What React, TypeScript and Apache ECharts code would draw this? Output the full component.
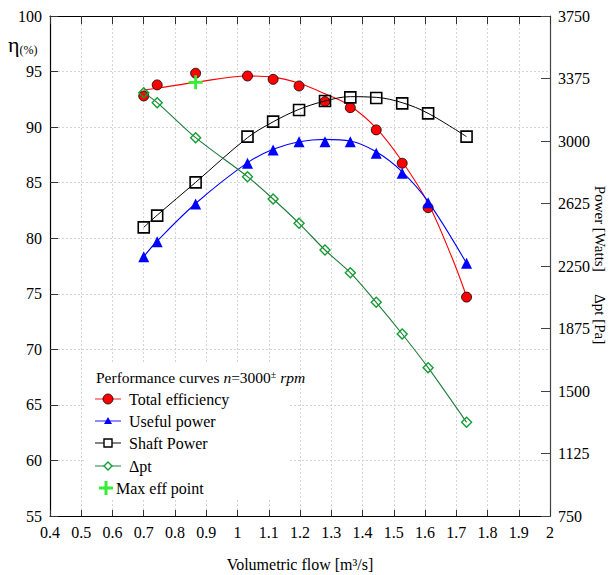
import React, { useEffect, useRef } from "react";
import * as echarts from "echarts";

// Measured points
const flow = [0.7, 0.743, 0.866, 1.032, 1.114, 1.197, 1.28, 1.361, 1.444, 1.527, 1.61, 1.733];
const totalEff = [92.8, 93.8, 94.85, 94.6, 94.3, 93.7, 92.3, 91.75, 89.75, 86.75, 82.75, 74.7];
const usefulPower = [2306, 2396, 2622, 2866, 2946, 2996, 2996, 2996, 2926, 2806, 2630, 2266];
const shaftPower = [2482, 2552, 2752, 3026, 3116, 3186, 3240, 3262, 3258, 3226, 3166, 3026];
const deltaPt = [3290, 3230, 3020, 2786, 2652, 2506, 2346, 2210, 2032, 1842, 1640, 1312];

// Fitted curves
const effFitFlow = [0.7, 0.743, 0.866, 1.032, 1.114, 1.197, 1.28, 1.361, 1.444, 1.527, 1.61, 1.685, 1.733];
const effFit = [93.35, 93.5, 94.03, 94.6, 94.5, 93.95, 93.0, 91.9, 89.9, 86.9, 83.15, 78.35, 74.76];
const usefulFit = [2306, 2400, 2625, 2870, 2950, 2995, 3010, 3000, 2935, 2815, 2636, 2266];
const shaftFit = [2482, 2555, 2752, 3020, 3115, 3190, 3240, 3266, 3262, 3230, 3166, 3026];
const deltaFit = [3290, 3230, 3020, 2786, 2652, 2506, 2346, 2210, 2032, 1842, 1640, 1312];

const maxEffPoint = [0.866, 94.03];

const xTicks = { min: 0.4, max: 2, interval: 0.1 };
const leftTicks = { min: 55, max: 100, interval: 5 };
const rightTicks = { min: 750, max: 3750, interval: 375 };

const FONT = "'Liberation Serif'";
const plusPath = "path://M4,0H6V4H10V6H6V10H4V6H0V4H4Z";

const zip = (xs: number[], ys: number[]) => xs.map((x, i) => [x, ys[i]]);

const txt = (x: number, y: number, text: string) => ({
  type: "text", z: 51, x, y,
  style: {
    text: `{a|${text}}`,
    verticalAlign: "middle",
    fontFamily: FONT, fontSize: 16,
    rich: { a: { fontFamily: FONT, fontSize: 16, fill: "#000" } },
  },
});

export default function App() {
  const ref = useRef<HTMLDivElement>(null);
  useEffect(() => {
    document.body.style.margin = "0";
    if (!ref.current) return;
    const chart = echarts.init(ref.current, undefined, { renderer: "svg" });
    const gridLine = { show: true, lineStyle: { color: "#d4d4d4", type: [2, 2] as any, width: 1 } };
    const legendRows = [399, 421, 443, 466];
    const lx0 = 95, lx1 = 121, mx = 108, tx = 129;
    const option: any = {
      animation: false,
      textStyle: { fontFamily: FONT },
      grid: { left: 50, right: 62, top: 16, bottom: 59, containLabel: false, outerBoundsMode: "none" },
      xAxis: [
        {
          type: "value", ...xTicks, position: "bottom",
          name: "Volumetric flow [m³/s]", nameLocation: "middle", nameGap: 40, nameMoveOverlap: false,
          nameTextStyle: { fontFamily: FONT, fontSize: 16, color: "#000" },
          axisLine: { show: true, onZero: false, lineStyle: { color: "#000", width: 1.2 } },
          axisTick: { show: true, inside: true, length: 6, lineStyle: { color: "#333" } },
          axisLabel: { fontFamily: FONT, fontSize: 16, color: "#000", margin: 8 },
          splitLine: gridLine,
        },
        {
          type: "value", ...xTicks, position: "top",
          axisLine: { show: true, onZero: false, lineStyle: { color: "#000", width: 1.2 } },
          axisTick: { show: true, inside: true, length: 8, lineStyle: { color: "#333" } },
          axisLabel: { show: false },
          splitLine: { show: false },
        },
      ],
      yAxis: [
        {
          type: "value", ...leftTicks, position: "left",
          axisLine: { show: true, onZero: false, lineStyle: { color: "#000", width: 1.2 } },
          axisTick: { show: true, inside: true, length: 8, lineStyle: { color: "#333" } },
          axisLabel: { fontFamily: FONT, fontSize: 16, color: "#000", margin: 8 },
          splitLine: gridLine,
        },
        {
          type: "value", ...rightTicks, position: "right",
          axisLine: { show: true, onZero: false, lineStyle: { color: "#444", width: 1.2 } },
          axisTick: { show: true, inside: true, length: 9, lineStyle: { color: "#444" } },
          axisLabel: { fontFamily: FONT, fontSize: 16, color: "#000", margin: 8, formatter: (v: number) => String(v) },
          splitLine: { show: false },
        },
      ],
      series: [
        { name: "Total efficiency fit", type: "line", yAxisIndex: 0, data: zip(effFitFlow, effFit), smooth: 0.35, showSymbol: false, lineStyle: { color: "#ff0000", width: 1.1 }, z: 2 },
        { name: "Total efficiency", type: "scatter", yAxisIndex: 0, data: zip(flow, totalEff), symbol: "circle", symbolSize: 10, itemStyle: { color: "#ff0000", borderColor: "#000", borderWidth: 0.8, opacity: 1 }, z: 3 },
        { name: "Useful power fit", type: "line", yAxisIndex: 1, data: zip(flow, usefulFit), smooth: 0.35, showSymbol: false, lineStyle: { color: "#0000ff", width: 1.1 }, z: 4 },
        { name: "Useful power", type: "scatter", yAxisIndex: 1, data: zip(flow, usefulPower), symbol: "triangle", symbolSize: 11, itemStyle: { color: "#0000ff", opacity: 1 }, z: 5 },
        { name: "Shaft Power fit", type: "line", yAxisIndex: 1, data: zip(flow, shaftFit), smooth: 0.35, showSymbol: false, lineStyle: { color: "#000", width: 1 }, z: 6 },
        { name: "Shaft Power", type: "scatter", yAxisIndex: 1, data: zip(flow, shaftPower), symbol: "rect", symbolSize: 11, itemStyle: { color: "rgba(0,0,0,0)", borderColor: "#000", borderWidth: 1.6, opacity: 1 }, z: 7 },
        { name: "Δpt fit", type: "line", yAxisIndex: 1, data: zip(flow, deltaFit), smooth: 0.3, showSymbol: false, lineStyle: { color: "#1e7a3c", width: 1.1 }, z: 8 },
        { name: "Δpt", type: "scatter", yAxisIndex: 1, data: zip(flow, deltaPt), symbol: "diamond", symbolSize: 10, itemStyle: { color: "rgba(0,0,0,0)", borderColor: "#10a030", borderWidth: 1.4, opacity: 1 }, z: 9 },
        { name: "Max eff point", type: "scatter", yAxisIndex: 0, data: [maxEffPoint], symbol: plusPath, symbolSize: 14, itemStyle: { color: "#33ee33", opacity: 1 }, z: 10 },
      ],
      graphic: [
        { type: "rect", z: 50, shape: { x: 86, y: 362, width: 204, height: 138 }, style: { fill: "#fff" } },
        {
          type: "text", z: 51, x: 96, y: 377,
          style: {
            text: "{a|Performance curves }{i|n}{a|=3000}{s|±}{a| }{i|rpm}",
            verticalAlign: "middle",
            rich: {
              a: { fontFamily: FONT, fontSize: 15.5, fill: "#000" },
              i: { fontFamily: FONT, fontSize: 15.5, fontStyle: "italic", fill: "#000" },
              s: { fontFamily: FONT, fontSize: 10, fill: "#000", verticalAlign: "top", padding: [0, 0, 6, 0] },
            },
          },
        },
        // Total efficiency
        { type: "line", z: 51, shape: { x1: lx0, y1: legendRows[0], x2: lx1, y2: legendRows[0] }, style: { stroke: "#ff4040", lineWidth: 1.2 } },
        { type: "circle", z: 52, shape: { cx: mx, cy: legendRows[0], r: 5 }, style: { fill: "#ff0000", stroke: "#000", lineWidth: 0.8 } },
        txt(tx, legendRows[0], "Total efficiency"),
        // Useful power
        { type: "line", z: 51, shape: { x1: lx0, y1: legendRows[1], x2: lx1, y2: legendRows[1] }, style: { stroke: "#4040ff", lineWidth: 1.2 } },
        { type: "polygon", z: 52, shape: { points: [[mx, legendRows[1] - 4], [mx - 4, legendRows[1] + 3], [mx + 4, legendRows[1] + 3]] }, style: { fill: "#0000ff" } },
        txt(tx, legendRows[1], "Useful power"),
        // Shaft power
        { type: "line", z: 51, shape: { x1: lx0, y1: legendRows[2], x2: lx1, y2: legendRows[2] }, style: { stroke: "#333", lineWidth: 1.2 } },
        { type: "rect", z: 52, shape: { x: mx - 4, y: legendRows[2] - 4, width: 8, height: 8 }, style: { fill: "#fff", stroke: "#000", lineWidth: 1.4 } },
        txt(tx, legendRows[2], "Shaft Power"),
        // Delta pt
        { type: "line", z: 51, shape: { x1: lx0, y1: legendRows[3], x2: lx1, y2: legendRows[3] }, style: { stroke: "#3a9a5a", lineWidth: 1.2 } },
        { type: "polygon", z: 52, shape: { points: [[mx, legendRows[3] - 4], [mx + 4, legendRows[3]], [mx, legendRows[3] + 4], [mx - 4, legendRows[3]]] }, style: { fill: "#fff", stroke: "#10a030", lineWidth: 1.4 } },
        txt(tx, legendRows[3], "Δpt"),
        // Max eff point
        { type: "rect", z: 52, shape: { x: 99, y: 486.5, width: 14, height: 3 }, style: { fill: "#33ee33" } },
        { type: "rect", z: 52, shape: { x: 104.5, y: 481, width: 3, height: 14 }, style: { fill: "#33ee33" } },
        txt(116, 488, "Max eff point"),
        // y-axis title
        {
          type: "text", z: 51, x: 8, y: 44,
          style: {
            text: "{e|η}{p|(%)}",
            verticalAlign: "middle",
            rich: {
              e: { fontFamily: FONT, fontSize: 22, fill: "#000", lineHeight: 24 },
              p: { fontFamily: FONT, fontSize: 12, fill: "#000", lineHeight: 24, verticalAlign: "bottom" },
            },
          },
        },
        // right-axis title (rotated, reads top to bottom)
        {
          type: "text", z: 51, x: 600, y: 265, rotation: -Math.PI / 2,
          style: {
            text: "{a|Power [Watts]      Δpt [Pa]}",
            align: "center", verticalAlign: "middle",
            rich: { a: { fontFamily: FONT, fontSize: 15, fill: "#000" } },
          },
        },
      ],
    };
    chart.setOption(option);
    return () => chart.dispose();
  }, []);
  return <div ref={ref} style={{ width: 612, height: 575 }} />;
}
